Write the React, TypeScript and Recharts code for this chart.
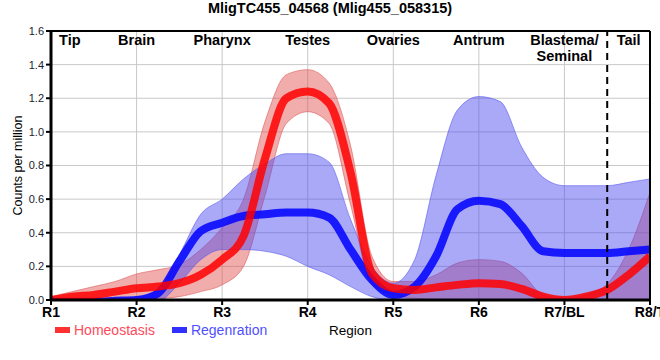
import {
  ComposedChart,
  Area,
  Line,
  Scatter,
  XAxis,
  YAxis,
  CartesianGrid,
  ReferenceLine,
} from "recharts";

// positions along the body, R1..R8, sampled every quarter region
const xs = [
  1, 1.25, 1.5, 1.75, 2, 2.25, 2.5, 2.75, 3, 3.25, 3.5, 3.75, 4, 4.25, 4.5, 4.75,
  5, 5.25, 5.5, 5.75, 6, 6.25, 6.5, 6.75, 7, 7.25, 7.5, 7.75, 8,
];

// Homeostasis (red)
const homeMid = [
  0.0, 0.02, 0.03, 0.05, 0.07, 0.08, 0.1, 0.15, 0.24, 0.38, 0.84, 1.2, 1.24, 1.17, 0.76, 0.16,
  0.07, 0.06, 0.075, 0.09, 0.1, 0.095, 0.066, 0.02, 0.0, 0.02, 0.06, 0.15, 0.26,
];
const homeLo = [
  0.0, 0.0, 0.0, 0.0, 0.01, 0.01, 0.02, 0.05, 0.09, 0.2, 0.62, 1.05, 1.12, 1.05, 0.57, 0.09,
  0.03, 0.01, 0.0, 0.0, 0.0, 0.0, 0.0, 0.0, 0.0, 0.0, 0.0, 0.0, 0.0,
];
const homeHi = [
  0.02, 0.05, 0.08, 0.11, 0.155, 0.18, 0.21, 0.3, 0.43, 0.6, 1.06, 1.34, 1.37, 1.29, 0.92, 0.26,
  0.11, 0.11, 0.15, 0.22, 0.24, 0.23, 0.16, 0.03, 0.01, 0.03, 0.095, 0.3, 0.64,
];

// Regenration (blue)
const regenMid = [
  -0.01, -0.01, -0.01, -0.005, 0.0, 0.04, 0.23, 0.41, 0.46, 0.5, 0.51, 0.52, 0.52, 0.49, 0.3, 0.12,
  0.03, 0.08, 0.26, 0.54, 0.59, 0.57, 0.44, 0.29, 0.28, 0.28, 0.28, 0.29, 0.3,
];
const regenLo = [
  -0.02, -0.02, -0.02, -0.02, -0.02, -0.01, 0.1, 0.24, 0.3, 0.3, 0.29, 0.26, 0.2, 0.15, 0.08, 0.02,
  0.0, 0.0, 0.0, 0.0, 0.0, 0.0, 0.0, 0.0, 0.0, 0.0, 0.0, 0.0, 0.0,
];
const regenHi = [
  0.0, 0.0, 0.0, 0.005, 0.02, 0.06, 0.27, 0.51, 0.6, 0.72, 0.81, 0.87, 0.87, 0.82, 0.48, 0.2,
  0.1, 0.24, 0.74, 1.13, 1.21, 1.18, 0.91, 0.73, 0.68, 0.68, 0.68, 0.7, 0.72,
];

const xTicks = [1, 2, 3, 4, 5, 6, 7, 8];
const xTickLabels = ["R1", "R2", "R3", "R4", "R5", "R6", "R7/BL", "R8/T"];
const yTicks = [0, 0.2, 0.4, 0.6, 0.8, 1.0, 1.2, 1.4, 1.6];

const regionNames = ["Tip", "Brain", "Pharynx", "Testes", "Ovaries", "Antrum", "Blastema/|Seminal", "Tail"];
const regionPos = [1.22, 2, 3, 4, 5, 6, 7, 7.75];

const NARROW = "'Liberation Sans Narrow', 'Arial Narrow', 'Liberation Sans', sans-serif";
const SANS = "'Liberation Sans', Arial, sans-serif";

const rows = xs.map((x, i) => ({
  x,
  hMid: homeMid[i],
  hBand: [homeLo[i], homeHi[i]],
  rMid: regenMid[i],
  rBand: [regenLo[i], regenHi[i]],
}));

const regionRows = regionNames.map((name, i) => ({ x: regionPos[i], y: 1.6, name }));

// region names along the top of the plot
const RegionLabel = (props: any) => {
  const { cx, cy, payload } = props;
  const lines = String(payload.name).split("|");
  return (
    <text
      x={cx}
      y={cy + 14}
      textAnchor="middle"
      fontFamily={NARROW}
      fontWeight="bold"
      fontSize={14.5}
      fill="#000"
    >
      {lines.map((l, i) => (
        <tspan key={l} x={cx} dy={i === 0 ? 0 : 16}>
          {l}
        </tspan>
      ))}
    </text>
  );
};

export default function App() {
  return (
    <div
      style={{
        position: "absolute",
        left: 0,
        top: 0,
        width: 660,
        height: 360,
        background: "#fff",
      }}
    >
      <div
        style={{
          position: "absolute",
          left: 0,
          top: 0,
          width: 660,
          textAlign: "center",
          fontFamily: NARROW,
          fontWeight: "bold",
          fontSize: 14.5,
          lineHeight: "16px",
        }}
      >
        MligTC455_04568 (Mlig455_058315)
      </div>

      <ComposedChart
        width={660}
        height={360}
        data={rows}
        margin={{ top: 31, right: 10, bottom: 20, left: 0 }}
      >
        <CartesianGrid stroke="#c8c8c8" strokeWidth={1} verticalValues={xTicks} />
        <XAxis
          dataKey="x"
          type="number"
          domain={[1, 8]}
          ticks={xTicks}
          allowDataOverflow
          height={40}
          interval={0}
          tickFormatter={(v) => xTickLabels[xTicks.indexOf(v)] ?? ""}
          tick={{ fill: "#000", fontFamily: NARROW, fontWeight: "bold", fontSize: 14 }}
          tickLine={{ stroke: "#000", strokeWidth: 2 }}
          tickSize={5}
          axisLine={{ stroke: "#000", strokeWidth: 3 }}
          label={{
            value: "Region",
            position: "insideBottom",
            offset: 5,
            fill: "#000",
            fontFamily: NARROW,
            fontSize: 13.5,
          }}
        />
        <YAxis
          type="number"
          domain={[0, 1.6]}
          ticks={yTicks}
          allowDataOverflow
          width={51}
          tickFormatter={(v) => Number(v).toFixed(1)}
          tick={{ fill: "#1a1a2e", fontFamily: SANS, fontSize: 11 }}
          tickLine={{ stroke: "#000", strokeWidth: 2 }}
          tickSize={5}
          tickMargin={2}
          axisLine={{ stroke: "#000", strokeWidth: 3 }}
          label={(p: any) => {
            const vb = p.viewBox;
            const cy = vb.y + vb.height / 2;
            return (
              <text
                x={22}
                y={cy}
                transform={`rotate(-90, 22, ${cy})`}
                textAnchor="middle"
                fontFamily={SANS}
                fontSize={12.5}
                fill="#000"
              >
                Counts per million
              </text>
            );
          }}
        />

        <Area
          type="monotone"
          dataKey="hBand"
          stroke="#e05a5a"
          strokeWidth={1}
          strokeOpacity={0.6}
          fill="#e04848"
          fillOpacity={0.45}
          isAnimationActive={false}
        />
        <Area
          type="monotone"
          dataKey="rBand"
          stroke="#5a5af0"
          strokeWidth={1}
          strokeOpacity={0.6}
          fill="#4848f0"
          fillOpacity={0.47}
          isAnimationActive={false}
        />
        <Line
          type="monotone"
          dataKey="rMid"
          stroke="#0000ff"
          strokeOpacity={0.85}
          strokeWidth={8}
          dot={false}
          isAnimationActive={false}
        />
        <Line
          type="monotone"
          dataKey="hMid"
          stroke="#ff0000"
          strokeOpacity={0.85}
          strokeWidth={8}
          dot={false}
          isAnimationActive={false}
        />

        <ReferenceLine x={7.5} stroke="#000" strokeWidth={2} strokeDasharray="7 5" />
        <ReferenceLine y={1.6} stroke="#000" strokeWidth={2} />
        <ReferenceLine x={8} stroke="#000" strokeWidth={2} />

        <Scatter
          data={regionRows}
          dataKey="y"
          shape={RegionLabel}
          isAnimationActive={false}
        />
      </ComposedChart>

      {/* Legend */}
      <div
        style={{
          position: "absolute",
          left: 55,
          top: 321,
          display: "flex",
          alignItems: "center",
          fontFamily: NARROW,
          fontSize: 14,
          lineHeight: "18px",
        }}
      >
        <div style={{ width: 15, height: 6, background: "#ff3030", marginRight: 4 }} />
        <span style={{ color: "#ff4a5a", marginRight: 17 }}>Homeostasis</span>
        <div style={{ width: 15, height: 6, background: "#3030ff", marginRight: 4 }} />
        <span style={{ color: "#5050ff" }}>Regenration</span>
      </div>
    </div>
  );
}
